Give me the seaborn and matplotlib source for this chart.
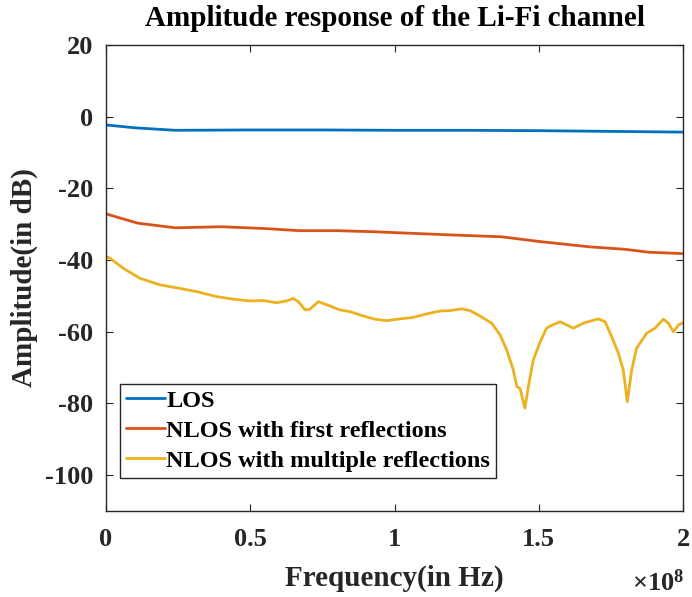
import numpy as np
import pandas as pd
import matplotlib
matplotlib.use("Agg")
import matplotlib.pyplot as plt
import seaborn as sns
from matplotlib.ticker import FuncFormatter, FixedLocator

# ---------------- data (frequency in units of 1e8 Hz, amplitude in dB) ----------------
los_freq = [0.0, 0.05, 0.10, 0.24, 0.5, 0.75, 1.0, 1.25, 1.5, 1.75, 2.0]
los_amp = [-2.3, -2.7, -3.1, -3.8, -3.7, -3.7, -3.8, -3.8, -3.9, -4.1, -4.3]

nlos1_freq = [0.0, 0.05, 0.11, 0.24, 0.40, 0.55, 0.67, 0.80, 0.93, 1.05, 1.20, 1.37,
              1.50, 1.675, 1.80, 1.88, 2.0]
nlos1_amp = [-27.1, -28.3, -29.7, -31.0, -30.7, -31.2, -31.8, -31.8, -32.1, -32.5, -33.0, -33.5,
             -34.8, -36.3, -37.0, -37.8, -38.2]

nlosm_freq = [0.0, 0.014, 0.06, 0.118, 0.187, 0.256, 0.314, 0.384, 0.441, 0.499,
              0.545, 0.592, 0.626, 0.649, 0.667, 0.690, 0.707, 0.736, 0.776, 0.811,
              0.846, 0.892, 0.932, 0.973, 1.019, 1.065, 1.112, 1.158, 1.192, 1.233,
              1.262, 1.296, 1.337, 1.366, 1.389, 1.412, 1.424, 1.435, 1.452, 1.464,
              1.481, 1.504, 1.527, 1.545, 1.574, 1.620, 1.654, 1.706, 1.730, 1.753,
              1.776, 1.793, 1.807, 1.822, 1.839, 1.874, 1.903, 1.932, 1.949, 1.967,
              1.984, 2.0]
nlosm_amp = [-39.0, -39.5, -42.3, -45.1, -46.9, -47.9, -48.8, -50.2, -50.9, -51.4,
             -51.3, -51.9, -51.4, -50.7, -51.6, -53.9, -53.7, -51.6, -52.8, -53.9,
             -54.4, -55.6, -56.5, -56.9, -56.4, -56.0, -55.0, -54.2, -54.1, -53.6,
             -54.1, -55.6, -57.6, -60.9, -65.1, -70.7, -75.3, -75.8, -81.3, -75.3,
             -67.9, -63.0, -59.0, -58.2, -57.2, -59.0, -57.6, -56.4, -57.2, -61.4,
             -66.0, -70.7, -79.5, -70.7, -64.6, -60.4, -59.0, -56.5, -57.6, -60.0,
             -58.1, -57.5]

series_names = ["LOS", "NLOS with first reflections", "NLOS with multiple reflections"]
series_colors = ["#0072BD", "#D95319", "#EDB120"]
x_ticks = [0.0, 0.5, 1.0, 1.5, 2.0]
y_ticks = [-100, -80, -60, -40, -20, 0, 20]
scale = 1e8

frames = []
for name, fr, amp in zip(series_names, [los_freq, nlos1_freq, nlosm_freq],
                         [los_amp, nlos1_amp, nlosm_amp]):
    frames.append(pd.DataFrame({"freq": np.array(fr) * scale, "amp": amp, "series": name}))
df = pd.concat(frames, ignore_index=True)

# ---------------- style ----------------
sns.set_theme(style="white")
plt.rcParams["font.family"] = ["Liberation Serif", "DejaVu Serif"]
plt.rcParams["font.weight"] = "bold"
plt.rcParams["axes.unicode_minus"] = False
plt.rcParams["mathtext.fontset"] = "custom"
plt.rcParams["mathtext.rm"] = "Liberation Serif:bold"
plt.rcParams["mathtext.it"] = "Liberation Serif:bold"
plt.rcParams["mathtext.bf"] = "Liberation Serif:bold"

fig = plt.figure(figsize=(6.92, 5.97), dpi=100)
ax = fig.add_axes([106 / 692, 1 - 511 / 597, 577 / 692, 466 / 597])

sns.lineplot(data=df, x="freq", y="amp", hue="series", hue_order=series_names,
             palette=series_colors, linewidth=2.0, ax=ax, sort=False,
             estimator=None)

ax.set_xlim(0, 2 * scale)
ax.set_ylim(-110, 20)
ax.xaxis.set_major_locator(FixedLocator([t * scale for t in x_ticks]))
ax.xaxis.set_major_formatter(FuncFormatter(lambda v, p: f"{v / scale:g}"))
ax.set_yticks(y_ticks)

for s in ax.spines.values():
    s.set_color("#262626")
    s.set_linewidth(1.0)

ax.tick_params(axis="both", which="major", direction="in", length=5, width=0.8,
               color="#262626", labelsize=19, top=True, right=True,
               bottom=True, left=True, labelcolor="#262626")
ax.tick_params(axis="x", pad=12)
ax.tick_params(axis="y", pad=9)
for lab in ax.get_xticklabels() + ax.get_yticklabels():
    lab.set_fontweight("bold")

ax.set_title("Amplitude response of the Li-Fi channel", fontsize=21,
             fontweight="bold", pad=14, color="#000000")
ax.set_xlabel("Frequency(in Hz)", fontsize=21, fontweight="bold", labelpad=10,
              color="#262626")
ax.set_ylabel("Amplitude(in dB)", fontsize=21, fontweight="bold", labelpad=5,
              color="#262626")

ax.text(1.003, -0.125, r"$\times10^{8}$", transform=ax.transAxes, ha="right",
        va="top", fontsize=19, color="#262626")

leg = ax.legend(loc="lower left", bbox_to_anchor=(14 / 577, 33 / 466),
                frameon=True, fancybox=False, framealpha=1, edgecolor="#262626",
                fontsize=17.5, handlelength=1.6, handletextpad=0.05,
                borderpad=0.25, labelspacing=0.33, borderaxespad=0)
leg.get_frame().set_linewidth(1.0)
for t in leg.get_texts():
    t.set_fontweight("bold")
    t.set_color("#000000")

fig.savefig("out.png", dpi=100)
